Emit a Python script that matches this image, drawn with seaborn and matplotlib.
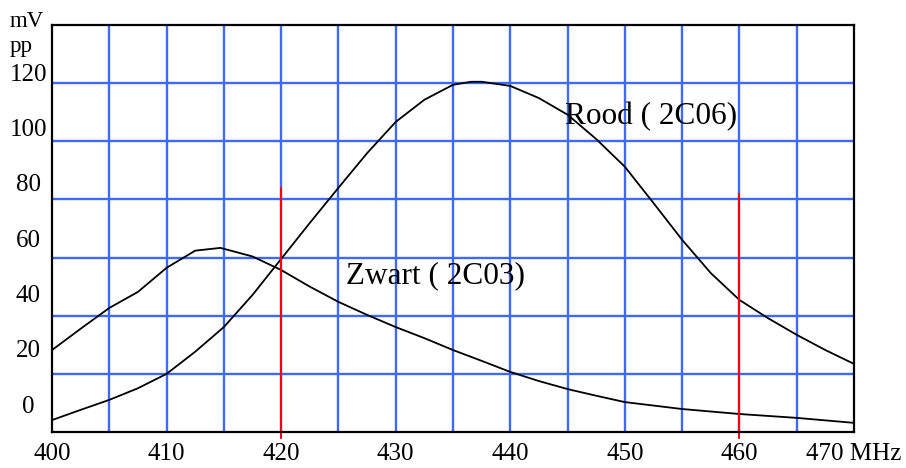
import matplotlib
matplotlib.use("Agg")
import matplotlib.pyplot as plt
import seaborn as sns
import numpy as np

# frequency (MHz) / amplitude (mV pp)
zwart_mhz = [400, 402.5, 405, 407.5, 410, 412.5, 414.7, 417.5, 420, 422.5, 425, 427.5,
             430, 432.5, 435, 437.5, 440, 442.5, 445, 447.5, 450, 455, 460, 465, 470]
zwart_mv = [19.6, 27.3, 34.8, 40.6, 49.3, 55.5, 56.5, 53.4, 48.5, 42.5, 37.0, 32.3,
            27.9, 23.9, 19.6, 15.7, 11.7, 8.4, 5.5, 3.1, 0.8, -1.7, -3.5, -4.9, -6.7]

rood_mhz = [400, 402.5, 405, 407.5, 410, 412.5, 415, 417.5, 420, 422.5, 425, 427.5, 430,
            432.5, 435, 436.6, 437.5, 440, 442.5, 445, 447.5, 450, 452.5, 455, 457.5,
            460, 462.5, 465, 467.5, 470]
rood_mv = [-5.7, -2.0, 1.6, 5.8, 11.0, 19.0, 27.9, 39.5, 52.5, 65.5, 78.2, 90.7, 102.0,
           110.0, 115.4, 116.5, 116.5, 115.0, 110.6, 104.6, 95.8, 85.8, 72.7, 59.4, 47.4,
           37.7, 31.1, 25.1, 19.6, 14.6]

# red marker lines
marker_mhz = [420, 460]
marker_top = [78, 76]
marker_bottom = -12

x_ticks = [400, 410, 420, 430, 440, 450, 460, 470]
x_labels = ["400", "410", "420", "430", "440", "450", "460", "470 MHz"]
y_ticks = [0, 20, 40, 60, 80, 100, 120]
y_labels = ["0", "20", "40", "60", "80", "100", "120"]

sns.set_style("white")
plt.rcParams['font.family'] = ['Liberation Serif', 'DejaVu Serif']
plt.rcParams['text.color'] = 'black'
plt.rcParams['xtick.color'] = 'black'
plt.rcParams['ytick.color'] = 'black'

fig = plt.figure(figsize=(9.06, 4.68), dpi=100)
ax = fig.add_axes([52 / 906, 36 / 468, 802 / 906, 407 / 468])

# grid: x every 5 MHz, y on its own (offset) spacing as in the original sheet
ax.set_xlim(400, 470)
ax.set_ylim(-10, 137)
ax.xaxis.remove_overlapping_locs = False
ax.set_xticks(np.arange(405, 470, 5), minor=True)
ax.set_yticks(np.arange(11, 137, 21), minor=True)
ax.grid(which='minor', color='#3d69ff', linewidth=1.7)
ax.grid(which='major', visible=False)

sns.lineplot(x=zwart_mhz, y=zwart_mv, ax=ax, color='black', linewidth=1.3, sort=False)
sns.lineplot(x=rood_mhz, y=rood_mv, ax=ax, color='black', linewidth=1.3, sort=False)

for m, top in zip(marker_mhz, marker_top):
    ax.plot([m, m], [marker_bottom, top], color='#ff0000', linewidth=1.5, clip_on=False, zorder=3)

ax.text(444.8, 101.3, "Rood ( 2C06)", fontsize=22.5, va='baseline', ha='left', color='black')
ax.text(425.7, 43.8, "Zwart ( 2C03)", fontsize=22.5, va='baseline', ha='left', color='black')

ax.set_xticks(x_ticks)
ax.set_xticklabels(x_labels)
ax.set_yticks(y_ticks)
ax.set_yticklabels(y_labels, ha='center')
ax.tick_params(axis='both', which='both', length=0, labelsize=18, labelcolor='black')
ax.tick_params(axis='x', pad=8)
ax.tick_params(axis='y', pad=17)

for side in ['left', 'bottom', 'top', 'right']:
    ax.spines[side].set_visible(True)
    ax.spines[side].set_color('black')
    ax.spines[side].set_linewidth(1.6)
    ax.spines[side].set_zorder(4)

fig.text(10 / 906, 1 - 27 / 468, "mV", fontsize=16.5, va='baseline', ha='left')
fig.text(10 / 906, 1 - 52 / 468, "pp", fontsize=16.5, va='baseline', ha='left')

fig.savefig("out.png", dpi=100)
